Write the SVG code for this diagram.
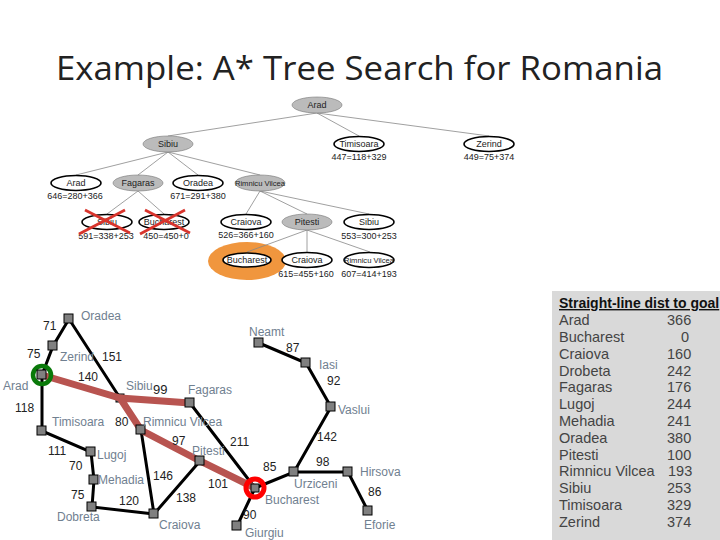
<svg xmlns="http://www.w3.org/2000/svg" width="720" height="540" viewBox="0 0 720 540">
<style>
text{font-family:"Liberation Sans",Arial,sans-serif}
.title{font-family:"Open Sans","Noto Sans",sans-serif;font-size:33px;fill:#222}
.t{stroke:#888;stroke-width:.8;fill:none}
.n ellipse{stroke:#000;stroke-width:1.6}
.w{fill:#fff}.g{fill:#bbb;stroke-width:.6!important;stroke:#777!important}
.n text{font-size:9px;fill:#222;text-anchor:middle}
.n text.s{font-size:7.6px}
.r{stroke:#000;stroke-width:3;fill:none}
.p{stroke:#b85450;stroke-width:7;fill:none}
.c{fill:#808080;stroke:#000;stroke-width:1}
.m{font-size:12px;fill:#708090}
.d{font-size:12px;fill:#222}
.h{font-size:14.5px;fill:#444}
.x{stroke:#d8342c;stroke-width:2.8}
</style>
<rect x="552" y="291" width="168" height="249" fill="#d9d9d9"/>
<text class="title" x="56" y="80" textLength="607" lengthAdjust="spacingAndGlyphs">Example: A* Tree Search for Romania</text>
<ellipse cx="247" cy="261" rx="39" ry="19" fill="#f0963e"/>
<g id="tree-edges" class="t">
<path d="M317 113 168 136M317 113 359 136M317 113 489 136M168 152 76 175M168 152 138 175M168 152 198 175M168 152 260 175M138 191 107 214M138 191 164 214M260 191 246 214M260 191 307 214M260 191 369 214M307 230 247 252M307 230 307 252M307 230 370 252"/>
</g>
<g id="t-arad" class="n"><ellipse class="g" cx="317" cy="105" rx="25" ry="8"/><text x="317" y="108">Arad</text></g>
<g id="t-sibiu" class="n"><ellipse class="g" cx="168" cy="144" rx="25" ry="8"/><text x="168" y="147">Sibiu</text></g>
<g id="t-timisoara" class="n"><ellipse class="w" cx="359" cy="144" rx="25" ry="7.5"/><text x="359" y="147">Timisoara</text><text x="359" y="160">447=118+329</text></g>
<g id="t-zerind" class="n"><ellipse class="w" cx="489" cy="144" rx="25" ry="7.5"/><text x="489" y="147">Zerind</text><text x="489" y="160">449=75+374</text></g>
<g id="t-arad2" class="n"><ellipse class="w" cx="76" cy="183" rx="25" ry="7.5"/><text x="76" y="186">Arad</text><text x="75" y="199">646=280+366</text></g>
<g id="t-fagaras" class="n"><ellipse class="g" cx="138" cy="183" rx="25" ry="8"/><text x="138" y="186">Fagaras</text></g>
<g id="t-oradea" class="n"><ellipse class="w" cx="198" cy="183" rx="25" ry="7.5"/><text x="198" y="186">Oradea</text><text x="198" y="199">671=291+380</text></g>
<g id="t-rimnicu" class="n"><ellipse class="g" cx="260" cy="183" rx="25" ry="8"/><text class="s" x="260" y="186">Rimnicu Vilcea</text></g>
<g id="t-sibiu2" class="n"><ellipse class="w" cx="107" cy="222" rx="25" ry="7.5"/><text x="107" y="225">Sibiu</text><text x="106" y="239">591=338+253</text></g>
<g id="t-bucharest" class="n"><ellipse class="w" cx="164" cy="222" rx="25" ry="7.5"/><text x="164" y="225">Bucharest</text><text x="166" y="239">450=450+0</text></g>
<g id="t-craiova" class="n"><ellipse class="w" cx="246" cy="222" rx="25" ry="7.5"/><text x="246" y="225">Craiova</text><text x="246" y="238">526=366+160</text></g>
<g id="t-pitesti" class="n"><ellipse class="g" cx="307" cy="222" rx="25" ry="8"/><text x="307" y="225">Pitesti</text></g>
<g id="t-sibiu3" class="n"><ellipse class="w" cx="369" cy="222" rx="25" ry="7.5"/><text x="369" y="225">Sibiu</text><text x="369" y="239">553=300+253</text></g>
<g id="t-bucharest2" class="n"><ellipse class="w" cx="247" cy="260" rx="24" ry="7"/><text x="247" y="263">Bucharest</text></g>
<g id="t-craiova2" class="n"><ellipse class="w" cx="307" cy="260" rx="25" ry="7.5"/><text x="307" y="263">Craiova</text><text x="306" y="277">615=455+160</text></g>
<g id="t-rimnicu2" class="n"><ellipse class="w" cx="369" cy="260" rx="25" ry="7.5"/><text class="s" x="369" y="263">Rimnicu Vilcea</text><text x="369" y="277">607=414+193</text></g>
<g id="crosses"><path class="x" d="M85 210 130 233M125 210 79 234M145 210 190 233M185 210 140 234"/></g>

<g id="m-sibiu"><rect class="c" x="116" y="394" width="8" height="8"/><text class="m" x="126" y="390">Sibiu</text></g>
<g id="connectors">
<path class="r" d="M42 375 53 346 69 319 120 398M42 375 42 431 91 452 94 480 92 507 154 514 141 430M154 514 200 461M190 403 255 488 237 526M255 488 294 472 348 472 368 511M294 472 331 407 306 363 259 343"/>
<path class="p" d="M42 375 120 398 190 403M120 398 141 430 200 461 255 488"/>
</g>
<g id="m-arad"><circle cx="42" cy="375" r="9" fill="none" stroke="#0a7a0a" stroke-width="4.5"/><rect class="c" x="37" y="370" width="9" height="9"/><text class="m" x="3" y="390">Arad</text></g>
<g id="m-zerind"><rect class="c" x="48" y="341" width="9" height="9"/><text class="m" x="60" y="361">Zerind</text></g>
<g id="m-oradea"><rect class="c" x="64" y="314" width="9" height="9"/><text class="m" x="81" y="320">Oradea</text></g>
<g id="m-timisoara"><rect class="c" x="37" y="426" width="9" height="9"/><text class="m" x="52" y="426">Timisoara</text></g>
<g id="m-lugoj"><rect class="c" x="86" y="447" width="9" height="9"/><text class="m" x="97" y="459">Lugoj</text></g>
<g id="m-mehadia"><rect class="c" x="89" y="475" width="9" height="9"/><text class="m" x="98" y="484">Mehadia</text></g>
<g id="m-dobreta"><rect class="c" x="87" y="502" width="9" height="9"/><text class="m" x="57" y="521">Dobreta</text></g>
<g id="m-craiova"><rect class="c" x="149" y="509" width="9" height="9"/><text class="m" x="159" y="529">Craiova</text></g>
<g id="m-rimnicu"><rect class="c" x="136" y="425" width="9" height="9"/><text class="m" x="143" y="426">Rimnicu Vilcea</text></g>
<g id="m-fagaras"><rect class="c" x="185" y="398" width="9" height="9"/><text class="m" x="188" y="394">Fagaras</text></g>
<g id="m-pitesti"><rect class="c" x="195" y="456" width="9" height="9"/><text class="m" x="192" y="455">Pitesti</text></g>
<g id="m-bucharest"><circle cx="255" cy="488" r="9" fill="none" stroke="#f00" stroke-width="5"/><rect class="c" x="251" y="484" width="8" height="8"/><text class="m" x="265" y="504">Bucharest</text></g>
<g id="m-urziceni"><rect class="c" x="289" y="467" width="9" height="9"/><text class="m" x="294" y="488">Urziceni</text></g>
<g id="m-hirsova"><rect class="c" x="343" y="467" width="9" height="9"/><text class="m" x="360" y="476">Hirsova</text></g>
<g id="m-eforie"><rect class="c" x="363" y="506" width="9" height="9"/><text class="m" x="364" y="529">Eforie</text></g>
<g id="m-giurgiu"><rect class="c" x="232" y="521" width="9" height="9"/><text class="m" x="245" y="537">Giurgiu</text></g>
<g id="m-vaslui"><rect class="c" x="326" y="402" width="9" height="9"/><text class="m" x="338" y="414">Vaslui</text></g>
<g id="m-iasi"><rect class="c" x="301" y="358" width="9" height="9"/><text class="m" x="319" y="369">Iasi</text></g>
<g id="m-neamt"><rect class="c" x="254" y="338" width="9" height="9"/><text class="m" x="249" y="336">Neamt</text></g>
<g id="distances">
<text class="d" x="43" y="330">71</text><text class="d" x="27" y="358">75</text><text class="d" x="102" y="361">151</text><text class="d" x="78" y="381">140</text><text class="d" x="15" y="412">118</text><text class="d" x="153" y="394" style="font-size:13px">99</text><text class="d" x="115" y="426">80</text><text class="d" x="172" y="445">97</text><text class="d" x="230" y="446">211</text><text class="d" x="48" y="455">111</text><text class="d" x="69" y="470">70</text><text class="d" x="153" y="480">146</text><text class="d" x="71" y="499">75</text><text class="d" x="208" y="488">101</text><text class="d" x="119" y="505">120</text><text class="d" x="176" y="502">138</text><text class="d" x="263" y="471">85</text><text class="d" x="316" y="466">98</text><text class="d" x="317" y="441">142</text><text class="d" x="368" y="496">86</text><text class="d" x="286" y="352">87</text><text class="d" x="327" y="385">92</text><text class="d" x="243" y="519">90</text>
</g>
<g id="table">
<text x="559" y="308" font-weight="bold" text-decoration="underline" style="fill:#111;font-size:14px">Straight-line dist to goal</text>
<text class="h" x="559" y="325">Arad</text><text class="h" x="667" y="325">366</text>
<text class="h" x="559" y="342">Bucharest</text><text class="h" x="681" y="342">0</text>
<text class="h" x="559" y="359">Craiova</text><text class="h" x="667" y="359">160</text>
<text class="h" x="559" y="376">Drobeta</text><text class="h" x="667" y="376">242</text>
<text class="h" x="559" y="392">Fagaras</text><text class="h" x="667" y="392">176</text>
<text class="h" x="559" y="409">Lugoj</text><text class="h" x="667" y="409">244</text>
<text class="h" x="559" y="426">Mehadia</text><text class="h" x="667" y="426">241</text>
<text class="h" x="559" y="443">Oradea</text><text class="h" x="667" y="443">380</text>
<text class="h" x="559" y="460">Pitesti</text><text class="h" x="667" y="460">100</text>
<text class="h" x="559" y="476">Rimnicu Vilcea</text><text class="h" x="668" y="476">193</text>
<text class="h" x="559" y="493">Sibiu</text><text class="h" x="667" y="493">253</text>
<text class="h" x="559" y="510">Timisoara</text><text class="h" x="667" y="510">329</text>
<text class="h" x="559" y="527">Zerind</text><text class="h" x="667" y="527">374</text>
</g>
</svg>
